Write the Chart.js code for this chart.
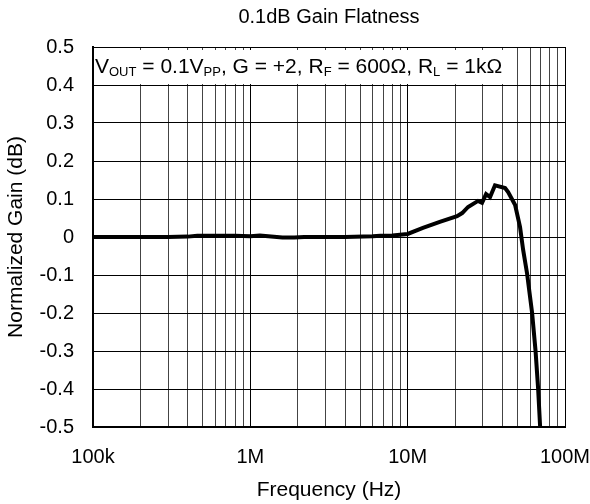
<!DOCTYPE html>
<html>
<head>
<meta charset="utf-8">
<script src="https://cdn.jsdelivr.net/npm/chart.js@4/dist/chart.umd.min.js"></script>
<style>
  html, body { margin: 0; padding: 0; background: #fff; }
  #wrap { width: 590px; height: 504px; }
</style>
</head>
<body>
<div id="wrap"><canvas id="chart" width="590" height="504"></canvas></div>
<script>
// frequency (Hz) and normalized gain (dB)
const freq = [1e5, 2e5, 3e5, 4e5, 4.6e5, 6e5, 8e5, 1e6, 1.15e6, 1.3e6, 1.6e6, 1.9e6, 2.2e6, 4e6, 6e6, 6.7e6, 8e6,
  10e6, 12.5e6, 16e6, 20.6e6, 22.2e6, 24.2e6, 28e6, 29.7e6, 31.5e6, 33.4e6, 35.9e6, 41.6e6, 43.5e6, 48.2e6,
  51.8e6, 54.2e6, 57.4e6, 61.8e6, 65e6, 67.5e6, 69.5e6];
const gain = [0, 0, 0, 0.001, 0.003, 0.003, 0.003, 0.002, 0.004, 0.002, -0.001, -0.001, 0, 0, 0.002, 0.003, 0.004,
  0.008, 0.024, 0.04, 0.055, 0.063, 0.079, 0.095, 0.09, 0.113, 0.105, 0.136, 0.129, 0.118, 0.084,
  0.026, -0.034, -0.096, -0.2, -0.3, -0.4, -0.5];

const xGrid = [];
for (let d = 1e5; d < 1e8; d *= 10) {
  for (let m = 1; m < 10; m++) xGrid.push(m * d);
}
xGrid.push(1e8);
const xTickLabels = { 1e5: '100k', 1e6: '1M', 1e7: '10M', 1e8: '100M' };
const yTicks = [0.5, 0.4, 0.3, 0.2, 0.1, 0, -0.1, -0.2, -0.3, -0.4, -0.5];

const FONT = 'Arial, "Liberation Sans", sans-serif';

// condition note with subscripts, on a white box in the top-left corner
const noteParts = [
  ['V', 0], ['OUT', 1], [' = 0.1V', 0], ['PP', 1], [', G = +2, R', 0], ['F', 1],
  [' = 600\u03A9, R', 0], ['L', 1], [' = 1k\u03A9', 0]
];
const notePlugin = {
  id: 'note',
  beforeDatasetsDraw(chart) {
    const ctx = chart.ctx;
    const a = chart.chartArea;
    const size = 21, sub = 13;
    ctx.save();
    let w = 0;
    noteParts.forEach(p => {
      ctx.font = (p[1] ? sub : size) + 'px ' + FONT;
      w += ctx.measureText(p[0]).width;
    });
    ctx.fillStyle = '#fff';
    ctx.fillRect(a.left + 1, a.top + 3, w + 6, 34);
    let x = a.left + 2;
    const base = a.top + 26;
    ctx.fillStyle = '#000';
    ctx.textBaseline = 'alphabetic';
    noteParts.forEach(p => {
      ctx.font = (p[1] ? sub : size) + 'px ' + FONT;
      ctx.fillText(p[0], x, p[1] ? base + 3 : base);
      x += ctx.measureText(p[0]).width;
    });
    ctx.restore();
  }
};

new Chart(document.getElementById('chart'), {
  type: 'line',
  data: {
    datasets: [{
      data: freq.map((f, i) => ({ x: f, y: gain[i] })),
      borderColor: '#000',
      borderWidth: 4,
      pointRadius: 0,
      tension: 0,
      fill: false
    }]
  },
  options: {
    responsive: false,
    animation: false,
    layout: { padding: { right: 25 } },
    plugins: {
      legend: { display: false },
      tooltip: { enabled: false },
      title: {
        display: true,
        text: '0.1dB Gain Flatness',
        fullSize: false,
        color: '#000',
        font: { family: FONT, size: 20, weight: 'normal' },
        padding: { top: 5, bottom: 18 }
      }
    },
    scales: {
      x: {
        type: 'logarithmic',
        min: 1e5,
        max: 1e8,
        afterBuildTicks: s => { s.ticks = xGrid.map(v => ({ value: v })); },
        afterFit: s => { s.height = 77; s.paddingLeft = 0; s.paddingRight = 0; },
        ticks: {
          autoSkip: false,
          maxRotation: 0,
          color: '#000',
          padding: 18,
          font: { family: FONT, size: 20 },
          callback: v => xTickLabels[v] || ''
        },
        grid: {
          color: c => (xTickLabels[c.tick && c.tick.value] ? '#000' : '#444'),
          lineWidth: 1,
          drawTicks: false
        },
        border: { color: '#000', width: 2 },
        title: {
          display: true,
          text: 'Frequency (Hz)',
          color: '#000',
          font: { family: FONT, size: 21 },
          padding: { bottom: 1.4 }
        }
      },
      y: {
        min: -0.5,
        max: 0.5,
        afterBuildTicks: s => { s.ticks = yTicks.map(v => ({ value: v })); },
        afterFit: s => { s.width = 93; s.paddingTop = 0; s.paddingBottom = 0; },
        ticks: {
          color: '#000',
          padding: 19,
          font: { family: FONT, size: 20 },
          callback: v => (Math.abs(v) < 1e-9 ? '0' : v.toFixed(1))
        },
        grid: { color: '#000', lineWidth: 1, drawTicks: false },
        border: { color: '#000', width: 2 },
        title: {
          display: true,
          text: 'Normalized Gain (dB)',
          color: '#000',
          font: { family: FONT, size: 21 },
          padding: { top: 3.4 }
        }
      }
    }
  },
  plugins: [notePlugin]
});
</script>
</body>
</html>
